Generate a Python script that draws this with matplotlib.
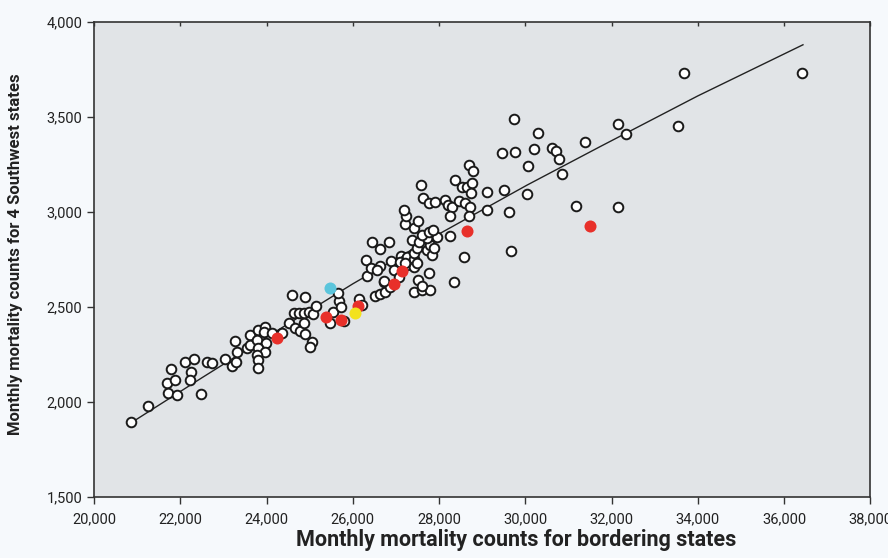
# -*- coding: utf-8 -*-
"""Monthly mortality: 4 Southwest states vs bordering states."""
import matplotlib
matplotlib.use("Agg")
import matplotlib.pyplot as plt
from matplotlib.ticker import FuncFormatter, MultipleLocator


# Open circles (bordering states, 4 SW states)
open_x = [
    20850, 21245, 21686, 21702, 21779, 21879, 21933, 22111, 22250, 22227,
    22320, 22475, 22614, 22730, 23039, 23195, 23294, 23271, 23325, 23542,
    23619, 23619, 23812, 23967, 23944, 23774, 23990, 23812, 23967, 23774,
    23812, 23797, 24121, 24353, 24530, 24586, 24880, 24625, 24760, 24870,
    24975, 25070, 25150, 24663, 24764, 24895, 25050, 25011, 24857, 25530,
    25475, 25784, 25680, 25730, 25660, 26143, 26220, 26340, 26519, 26635,
    26750, 26730, 26867, 27430, 27602, 27790, 27500, 27600, 27756, 28336,
    26442, 26635, 26828, 26295, 26420, 26620, 26558, 26890, 26945, 27110,
    27215, 27253, 27253, 27408, 27408, 27099, 27215, 27485, 27080, 26712,
    27408, 27485, 27718, 27834, 27795, 27872, 27369, 27524, 27718, 27950,
    27602, 27756, 27858, 27408, 27501, 27215, 27238, 27176, 27576, 27637,
    27756, 27911, 28143, 28200, 28298, 28259, 28452, 28590, 28710, 28700,
    28375, 28530, 28646, 28762, 28740, 28684, 28785, 29108, 29511, 30037,
    29108, 29611, 28265, 28568, 29675, 29730, 30300, 29467, 29767, 30192,
    30618, 30718, 30788, 31383, 32156, 30065, 30842, 31170, 32156, 32335,
    33540, 33675, 36410,
]
open_y = [
    1896, 1979, 2098, 2049, 2174, 2116, 2037, 2212, 2160, 2116,
    2225, 2042, 2212, 2204, 2226, 2190, 2209, 2323, 2265, 2283,
    2353, 2300, 2379, 2396, 2370, 2326, 2309, 2283, 2265, 2247,
    2221, 2177, 2362, 2362, 2414, 2563, 2554, 2467, 2466, 2468,
    2476, 2462, 2505, 2388, 2375, 2358, 2317, 2291, 2414, 2474,
    2414, 2426, 2532, 2502, 2576, 2542, 2508, 2661, 2558, 2570,
    2578, 2633, 2607, 2581, 2590, 2591, 2640, 2610, 2679, 2630,
    2841, 2805, 2841, 2747, 2705, 2718, 2695, 2743, 2696, 2770,
    2747, 2721, 2765, 2751, 2712, 2739, 2730, 2730, 2660, 2638,
    2783, 2809, 2800, 2774, 2826, 2809, 2853, 2844, 2862, 2870,
    2879, 2896, 2905, 2914, 2954, 2937, 2976, 3011, 3142, 3072,
    3046, 3054, 3063, 3037, 3024, 2980, 3058, 3046, 3024, 2980,
    3168, 3133, 3133, 3151, 3098, 3247, 3217, 3107, 3116, 3095,
    3011, 2997, 2872, 2765, 2795, 3488, 3414, 3310, 3316, 3330,
    3335, 3318, 3276, 3370, 3463, 3244, 3200, 3032, 3024, 3410,
    3450, 3733, 3733,
]

# Highlighted months
red_x = [24240, 25370, 25720, 26114, 26945, 27138, 28650, 31500]
red_y = [2335, 2449, 2433, 2505, 2623, 2690, 2898, 2926]
cyan_x = [25475]
cyan_y = [2598]
yellow_x = [26055]
yellow_y = [2467]

# Fit line
fit_x = [20850, 22500, 24240, 26000, 28030, 30040, 31740, 34000, 36440]
fit_y = [1890, 2128, 2375, 2622, 2888, 3141, 3344, 3610, 3879]

FONT = ["Liberation Sans Narrow", "Roboto", "DejaVu Sans"]
plt.rcParams["font.family"] = FONT

fig = plt.figure(figsize=(8.88, 5.58), dpi=100, facecolor="#f6f9fc")
ax = fig.add_axes([0.106, 0.109, 0.874, 0.852])
ax.set_facecolor("#e1e4e7")

ax.plot(fit_x, fit_y, color="#222222", lw=1.0, zorder=2)
ax.scatter(open_x, open_y, s=48, facecolors="white", edgecolors="#1a1a1a",
           linewidths=1.4, zorder=3)
ax.scatter(red_x, red_y, s=75, color="#e8302a", linewidths=0, zorder=4)
ax.scatter(cyan_x, cyan_y, s=75, color="#5bc5dc", linewidths=0, zorder=4)
ax.scatter(yellow_x, yellow_y, s=75, color="#f3e21c", linewidths=0, zorder=4)

ax.set_xlim(20000, 38000)
ax.set_ylim(1500, 4000)
ax.xaxis.set_major_locator(MultipleLocator(2000))
ax.yaxis.set_major_locator(MultipleLocator(500))
fmt = FuncFormatter(lambda v, p: f"{int(v):,}")
ax.xaxis.set_major_formatter(fmt)
ax.yaxis.set_major_formatter(fmt)

ax.tick_params(axis="both", direction="out", length=5, width=1,
               color="#333333", labelsize=10.5, labelcolor="#222222")
ax.tick_params(axis="x", top=True, pad=6)
for t in ax.xaxis.get_major_ticks():
    t.tick2line.set_marker(3)
    t.tick2line.set_markersize(3)

for side in ["left", "bottom", "top", "right"]:
    ax.spines[side].set_color("#333333")
    ax.spines[side].set_linewidth(1.2)

ax.set_xlabel("Monthly mortality counts for bordering states",
              fontsize=15.5, fontweight="bold", color="#222222")
ax.xaxis.set_label_coords(0.544, -0.066)
ax.set_ylabel("Monthly mortality counts for 4 Southwest states",
              fontsize=12, fontweight="bold", color="#222222")
ax.yaxis.set_label_coords(-0.092, 0.512)

fig.savefig("out.png", dpi=100, facecolor=fig.get_facecolor())
